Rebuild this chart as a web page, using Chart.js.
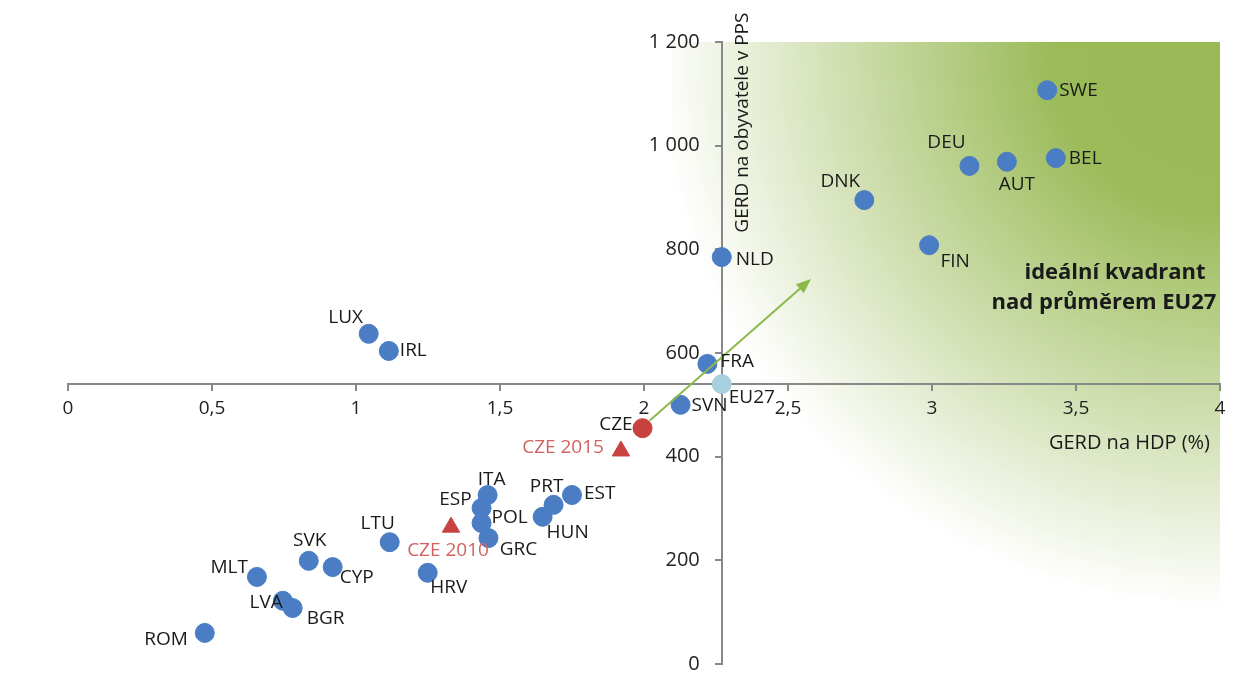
<!DOCTYPE html>
<html>
<head>
<meta charset="utf-8">
<script src="https://cdn.jsdelivr.net/npm/chart.js@4"></script>
<style>
  html, body { margin: 0; padding: 0; background: #fff; }
  #wrap { width: 1253px; height: 698px; }
</style>
</head>
<body>
<div id="wrap"><canvas id="graf" width="1253" height="698"></canvas></div>
<script>
// země (modré body)
const zeme = ['SWE','BEL','AUT','DEU','DNK','FIN','NLD','FRA','SVN','LUX','IRL','EST','PRT','HUN','ITA','ESP','POL','GRC','LTU','SVK','CYP','HRV','MLT','LVA','BGR','ROM'];
const gerdHdp = [3.40, 3.43, 3.26, 3.13, 2.765, 2.99, 2.27, 2.22, 2.127, 1.044, 1.114, 1.75, 1.686, 1.648, 1.457, 1.436, 1.436, 1.46, 1.117, 0.836, 0.919, 1.249, 0.656, 0.746, 0.78, 0.475];
const gerdPps = [1107, 976, 969, 961, 895, 808, 785, 579, 500, 637, 604, 326, 307, 284, 326, 301, 272, 243, 235, 199, 187, 176, 168, 122, 108, 60];

// EU27 a ČR
const euLabel = ['EU27'];
const euHdp = [2.27];
const euPps = [540];
const czeLabel = ['CZE'];
const czeHdp = [1.995];
const czePps = [455];
const czeHistLabel = ['CZE 2010', 'CZE 2015'];
const czeHistHdp = [1.33, 1.92];
const czeHistPps = [264, 411];

// osy
const xTicks = [0, 0.5, 1, 1.5, 2, 2.5, 3, 3.5, 4];
const yTicks = [0, 200, 400, 600, 800, 1000, 1200];
const osaKriz = { x: 2.27, y: 541 };

// šipka (od ČR směrem k ideálnímu kvadrantu)
const sipkaOd = [2.02, 470];
const sipkaDo = [2.58, 743];

// umístění popisků [dx, dy, zarovnání]
const popisky = {
  SWE: [12, 0, 'left'], BEL: [13, 0, 'left'], AUT: [10, 23, 'center'], DEU: [-23, -23, 'center'],
  DNK: [-24, -18, 'center'], FIN: [26, 16, 'center'], NLD: [14, 2, 'left'], FRA: [13, -2, 'left'],
  SVN: [11, 1, 'left'], LUX: [-23, -16, 'center'], IRL: [11, 0, 'left'], EST: [12, -1, 'left'],
  PRT: [-7, -18, 'center'], HUN: [25, 16, 'center'], ITA: [4, -15, 'center'], ESP: [-10, -8, 'right'],
  POL: [10, -5, 'left'], GRC: [30, 12, 'center'], LTU: [-12, -19, 'center'], SVK: [1, -20, 'center'],
  CYP: [24, 11, 'center'], HRV: [21, 15, 'center'], MLT: [-9, -9, 'right'], LVA: [0, 2, 'right'],
  BGR: [33, 11, 'center'], ROM: [-17, 7, 'right'], EU27: [7, 13, 'left'], CZE: [-10, -4, 'right'],
  'CZE 2010': [-3, 23, 'center'], 'CZE 2015': [-17, -3, 'right']
};

const FONT = "'Open Sans', sans-serif";

function body(xs, ys, names) {
  return xs.map((x, i) => ({ x: x, y: ys[i], nazev: names[i] }));
}

function tisice(v) {
  return v >= 1000 ? Math.floor(v / 1000) + ' ' + String(v % 1000).padStart(3, '0') : String(v);
}

const pozadi = {
  id: 'pozadi',
  beforeDraw(chart) {
    const { ctx, scales } = chart;
    const sx = scales.x, sy = scales.y;
    ctx.save();
    ctx.fillStyle = '#fff';
    ctx.fillRect(0, 0, chart.width, chart.height);
    const r = sx.getPixelForValue(4), t = sy.getPixelForValue(1200);
    const g = ctx.createRadialGradient(r, t, 0, r, t, 565);
    g.addColorStop(0, '#98B955');
    g.addColorStop(0.3, '#9BBB59');
    g.addColorStop(1, '#ffffff');
    ctx.fillStyle = g;
    const x0 = sx.getPixelForValue(osaKriz.x) - 50;
    ctx.fillRect(x0, t, r - x0, sy.getPixelForValue(0) - t);
    ctx.restore();
  }
};

const texty = {
  id: 'texty',
  afterDatasetsDraw(chart) {
    const { ctx, scales } = chart;
    const sx = scales.x, sy = scales.y;
    const osaX = sx.getPixelForValue(osaKriz.x);
    ctx.save();

    // šipka
    const x1 = sx.getPixelForValue(sipkaOd[0]), y1 = sy.getPixelForValue(sipkaOd[1]);
    const x2 = sx.getPixelForValue(sipkaDo[0]), y2 = sy.getPixelForValue(sipkaDo[1]);
    const a = Math.atan2(y2 - y1, x2 - x1);
    ctx.strokeStyle = '#8DB84A';
    ctx.fillStyle = '#8DB84A';
    ctx.lineWidth = 2;
    ctx.beginPath();
    ctx.moveTo(x1, y1);
    ctx.lineTo(x2 - 10 * Math.cos(a), y2 - 10 * Math.sin(a));
    ctx.stroke();
    ctx.beginPath();
    ctx.moveTo(x2, y2);
    ctx.lineTo(x2 - 15 * Math.cos(a) + 6 * Math.sin(a), y2 - 15 * Math.sin(a) - 6 * Math.cos(a));
    ctx.lineTo(x2 - 15 * Math.cos(a) - 6 * Math.sin(a), y2 - 15 * Math.sin(a) + 6 * Math.cos(a));
    ctx.closePath();
    ctx.fill();

    // popisky y osy (vlevo od osy)
    ctx.font = '20px ' + FONT;
    ctx.textBaseline = 'middle';
    ctx.textAlign = 'right';
    ctx.fillStyle = '#222';
    yTicks.forEach(v => ctx.fillText(tisice(v), osaX - 22, sy.getPixelForValue(v)));

    // popisky bodů
    ctx.font = '19px ' + FONT;
    chart.data.datasets.forEach((ds, di) => {
      const meta = chart.getDatasetMeta(di);
      meta.data.forEach((el, i) => {
        const n = ds.data[i].nazev;
        const p = popisky[n] || [12, 0, 'left'];
        ctx.textAlign = p[2];
        ctx.fillStyle = ds.barvaTextu || '#1a1a1a';
        ctx.fillText(n, el.x + p[0], el.y + p[1]);
      });
    });

    // názvy os
    ctx.fillStyle = '#1a1a1a';
    ctx.font = '20px ' + FONT;
    ctx.textAlign = 'right';
    ctx.fillText('GERD na HDP (%)', sx.right - 10, sy.getPixelForValue(osaKriz.y) + 60);
    ctx.save();
    ctx.font = '19px ' + FONT;
    ctx.translate(osaX + 21, sy.getPixelForValue(1000) + 87);
    ctx.rotate(-Math.PI / 2);
    ctx.textAlign = 'left';
    ctx.fillText('GERD na obyvatele v PPS', 0, 0);
    ctx.restore();

    // ideální kvadrant
    ctx.font = 'bold 22px ' + FONT;
    ctx.textAlign = 'center';
    ctx.fillText('ideální kvadrant', sx.getPixelForValue(3.5) + 39, sy.getPixelForValue(800) + 23);
    ctx.fillText('nad průměrem EU27', sx.getPixelForValue(3.5) + 28, sy.getPixelForValue(800) + 53);
    ctx.restore();
  }
};

new Chart(document.getElementById('graf'), {
  type: 'scatter',
  data: {
    datasets: [
      {
        data: body(gerdHdp, gerdPps, zeme),
        backgroundColor: '#4A7DC4', borderColor: '#4A7DC4',
        pointRadius: 9.5, pointHoverRadius: 9.5
      },
      {
        data: body(euHdp, euPps, euLabel),
        backgroundColor: '#A8CFE0', borderColor: '#A8CFE0',
        pointRadius: 9.5, pointHoverRadius: 9.5
      },
      {
        data: body(czeHdp, czePps, czeLabel),
        backgroundColor: '#C8423F', borderColor: '#C8423F',
        pointRadius: 9.5, pointHoverRadius: 9.5
      },
      {
        data: body(czeHistHdp, czeHistPps, czeHistLabel),
        pointStyle: 'triangle',
        backgroundColor: '#C8423F', borderColor: '#C8423F',
        pointRadius: 10, pointHoverRadius: 10,
        barvaTextu: '#D2625F'
      }
    ]
  },
  options: {
    responsive: false,
    animation: false,
    layout: { padding: { left: 68, right: 33, top: 42, bottom: 34 } },
    plugins: { legend: { display: false }, tooltip: { enabled: false } },
    scales: {
      x: {
        type: 'linear',
        position: { y: osaKriz.y },
        min: 0, max: 4,
        afterBuildTicks: s => { s.ticks = xTicks.map(v => ({ value: v })); },
        ticks: {
          padding: 8,
          color: '#222',
          font: { family: FONT, size: 19 },
          callback: v => String(v).replace('.', ',')
        },
        grid: { drawOnChartArea: false, drawTicks: true, tickLength: 6, color: '#888', lineWidth: 2 },
        border: { color: '#888', width: 2 }
      },
      y: {
        type: 'linear',
        position: { x: osaKriz.x },
        min: 0, max: 1200,
        afterBuildTicks: s => { s.ticks = yTicks.map(v => ({ value: v })); },
        ticks: {
          color: 'rgba(0,0,0,0)',
          font: { family: FONT, size: 20 },
          callback: v => tisice(v)
        },
        grid: { drawOnChartArea: false, drawTicks: true, tickLength: 6, color: '#888', lineWidth: 2 },
        border: { color: '#888', width: 2 }
      }
    }
  },
  plugins: [pozadi, texty]
});
</script>
</body>
</html>
